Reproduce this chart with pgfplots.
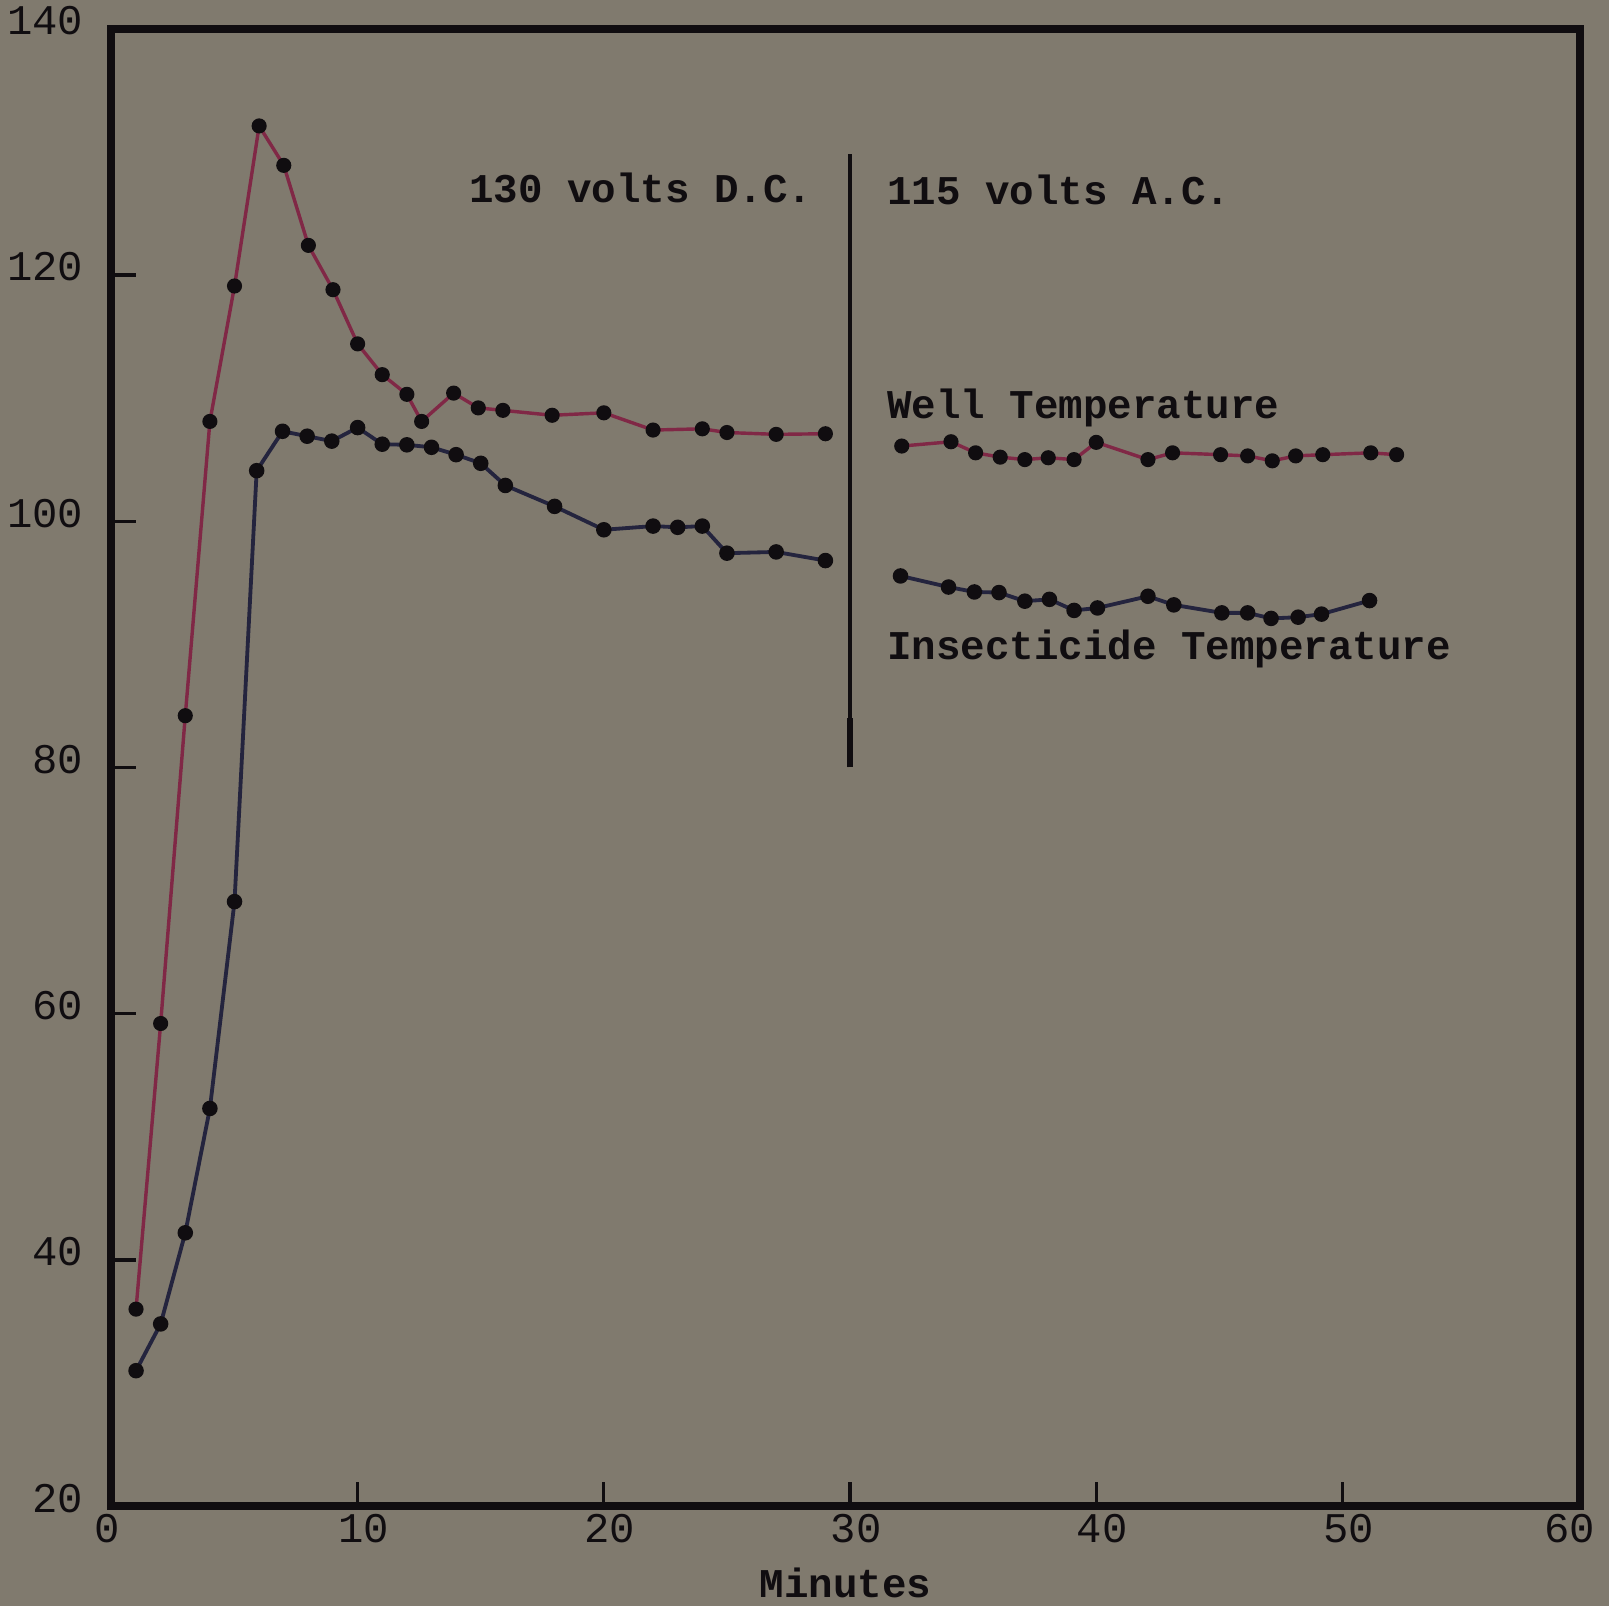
\documentclass[border=0pt]{standalone}
\usepackage{fontspec}
\setmonofont{Liberation Mono}
\usepackage{pgfplots}
\pgfplotsset{compat=1.18}

\definecolor{paper}{RGB}{128,122,110}
\definecolor{wellred}{RGB}{128,40,70}
\definecolor{insblue}{RGB}{36,36,62}
\definecolor{ink}{RGB}{16,13,16}

% Well temperature, 130 volts D.C.
\pgfplotstableread{
x y
1.0 36.0
2.0 59.2
3.0 84.2
4.0 108.1
5.0 119.1
6.0 132.1
7.0 128.9
8.0 122.4
9.0 118.8
10.0 114.4
11.0 111.9
12.0 110.3
12.6 108.1
13.9 110.4
14.9 109.2
15.9 109.0
17.9 108.6
20.0 108.8
22.0 107.4
24.0 107.5
25.0 107.2
27.0 107.05
29.0 107.1
}\wellDC

% Well temperature, 115 volts A.C.
\pgfplotstableread{
x y
32.1 106.1
34.1 106.45
35.1 105.55
36.1 105.2
37.1 105.0
38.05 105.15
39.1 105.0
40.0 106.4
42.1 105.0
43.1 105.55
45.05 105.4
46.15 105.3
47.15 104.9
48.1 105.3
49.2 105.4
51.15 105.55
52.2 105.4
}\wellAC

% Insecticide temperature, 130 volts D.C.
\pgfplotstableread{
x y
1.0 31.0
2.0 34.8
3.0 42.2
4.0 52.3
5.0 69.1
5.9 104.1
6.95 107.3
7.95 106.9
8.95 106.5
10.0 107.6
11.0 106.25
12.0 106.2
13.0 106.0
14.0 105.4
15.0 104.7
16.0 102.9
18.0 101.2
20.0 99.3
22.0 99.6
23.0 99.5
24.0 99.6
25.0 97.4
27.0 97.5
29.0 96.8
}\insDC

% Insecticide temperature, 115 volts A.C.
\pgfplotstableread{
x y
32.05 95.55
34.0 94.65
35.05 94.25
36.05 94.2
37.1 93.5
38.1 93.65
39.1 92.75
40.05 92.95
42.1 93.9
43.15 93.2
45.1 92.55
46.15 92.55
47.1 92.1
48.2 92.2
49.15 92.45
51.1 93.55
}\insAC

\begin{document}
\begin{tikzpicture}
\fill[paper] (-27.7pt,-24.86pt) rectangle (372.3pt,374.43pt);
\useasboundingbox (-27.7pt,-24.86pt) rectangle (372.3pt,374.43pt);
\begin{axis}[
  scale only axis,
  width=365.1pt, height=367.3pt,
  xmin=0, xmax=59.65, ymin=20, ymax=140,
  axis line style={ink, line width=2pt},
  xtick={0,10,...,50}, ytick={20,40,...,140},
  xticklabels={\kern-5pt 0,10,20,30,40,50},
  extra x ticks={59.65}, extra x tick labels={60},
  extra x tick style={major tick length=0pt, xticklabel style={xshift=-4pt}},
  xtick pos=bottom, ytick pos=left,
  tick align=inside, major tick length=6pt,
  tick style={ink, line width=0.8pt},
  /pgf/number format/assume math mode=true,
  ticklabel style={font=\ttfamily\fontsize{10.5}{12}\selectfont, text=ink},
  yticklabel style={xshift=-3.5pt, yshift=2pt},
  xticklabel style={xshift=1.5pt, yshift=1.6pt},
  clip=false,
  mark size=1.45pt,
]
\addplot[wellred, line width=0.85pt, mark=*, mark options={ink, fill=ink}] table {\wellDC};
\addplot[wellred, line width=0.85pt, mark=*, mark options={ink, fill=ink}] table {\wellAC};
\addplot[insblue, line width=0.95pt, mark=*, mark options={ink, fill=ink}] table {\insDC};
\addplot[insblue, line width=0.95pt, mark=*, mark options={ink, fill=ink}] table {\insAC};

% change of supply at 30 minutes
\draw[ink, line width=0.9pt] (axis cs:30,80) -- (axis cs:30,129.8);
\draw[ink, line width=1.6pt] (axis cs:30,80) -- (axis cs:30,84);

\begin{scope}[every node/.style={font=\ttfamily\bfseries\fontsize{10.15}{12}\selectfont, text=ink, inner sep=0pt}]
\node[anchor=base west] at (axis cs:14.5,125.9) {130 volts D.C.};
\node[anchor=base west] at (axis cs:31.48,125.7) {115 volts A.C.};
\node[anchor=base west] at (axis cs:31.48,108.35) {Well Temperature};
\node[anchor=base west] at (axis cs:31.48,88.75) {Insecticide Temperature};
\node[anchor=base] at ([yshift=-22.7pt]rel axis cs:0.5,0) {Minutes};
\end{scope}
\end{axis}
\end{tikzpicture}
\end{document}
